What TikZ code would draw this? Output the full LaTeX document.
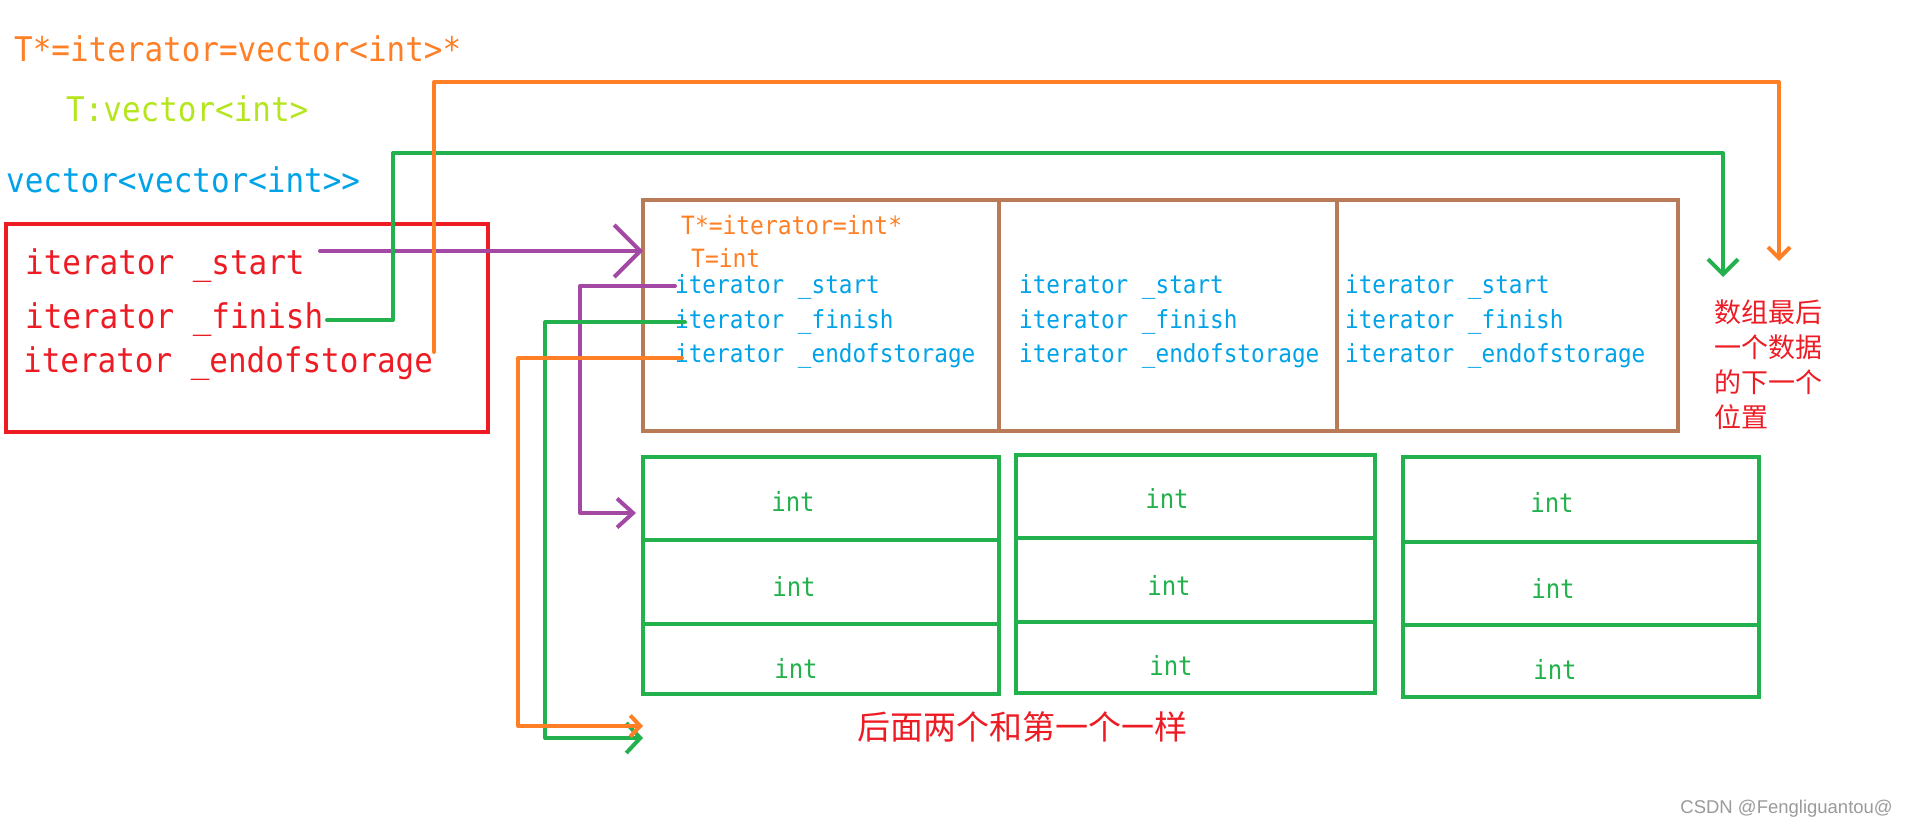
\documentclass[tikz,border=0pt]{standalone}
\usepackage{fontspec}
\setmonofont[FakeStretch=0.91]{DejaVu Sans Mono}
\newfontfamily\cjk{Noto Sans CJK SC}
\newfontfamily\wmfont{Liberation Sans}
\usetikzlibrary{arrows.meta}
\definecolor{cred}{HTML}{ED1C24}
\definecolor{corange}{HTML}{FF7F27}
\definecolor{clime}{HTML}{B5E61D}
\definecolor{cblue}{HTML}{00A2E8}
\definecolor{cpurple}{HTML}{A349A4}
\definecolor{cgreen}{HTML}{22B14C}
\definecolor{cbrown}{HTML}{B97A57}
\definecolor{cgray}{HTML}{9A9A9A}
\begin{document}
\begin{tikzpicture}[x=1pt,y=-1pt,
  bigtxt/.style={font=\ttfamily\fontsize{34}{40}\selectfont, inner sep=0pt, anchor=base west},
  smalltxt/.style={font=\ttfamily\fontsize{24.9}{29}\selectfont, inner sep=0pt, anchor=base west, text=cblue},
  tinyorange/.style={font=\ttfamily\fontsize{25.2}{29}\selectfont, inner sep=0pt, anchor=base west, text=corange},
  inttxt/.style={font=\ttfamily\fontsize{26.4}{30}\selectfont, text=cgreen, inner sep=0pt},
  box/.style={draw, line width=4pt, inner sep=0pt, outer sep=0pt, anchor=north west},
  cellbox/.style={box, draw=cgreen, line width=4.5pt},
  vecbox/.style={box, draw=cbrown, minimum height=231pt},
  conn/.style={line width=4pt, line cap=round, line join=round},
]
\useasboundingbox (0,0) rectangle (1906,829);

% title texts
\node[bigtxt, text=corange] (t1) at (14,62) {T*=iterator=vector<int>*};
\node[bigtxt, text=clime] (t2) at (66,122) {T:vector<int>};
\node[bigtxt, text=cblue] (t3) at (6,193) {vector<vector<int>>};

% red box
\node[box, draw=cred, minimum width=482pt, minimum height=208pt] (redbox) at (6,224) {};
\node[bigtxt, text=cred] (rs) at (25,274) {iterator \_start};
\node[bigtxt, text=cred] (rf) at (25,328) {iterator \_finish};
\node[bigtxt, text=cred] (re) at (23,372) {iterator \_endofstorage};

% brown vector box
\node[vecbox, minimum width=356pt] (v1) at (643,200) {};
\node[vecbox, minimum width=338pt] (v2) at (999,200) {};
\node[vecbox, minimum width=341pt] (v3) at (1337,200) {};

\node[tinyorange] (o1) at (681,235) {T*=iterator=int*};
\node[tinyorange] (o2) at (691,267) {T=int};

\node[smalltxt] (bs1) at (675,293) {iterator \_start};
\node[smalltxt] (bf1) at (675,328) {iterator \_finish};
\node[smalltxt] (be1) at (675,362) {iterator \_endofstorage};
\node[smalltxt] (bs2) at (1019,293) {iterator \_start};
\node[smalltxt] (bf2) at (1019,328) {iterator \_finish};
\node[smalltxt] (be2) at (1019,362) {iterator \_endofstorage};
\node[smalltxt] (bs3) at (1345,293) {iterator \_start};
\node[smalltxt] (bf3) at (1345,328) {iterator \_finish};
\node[smalltxt] (be3) at (1345,362) {iterator \_endofstorage};

% int cells
\node[cellbox, minimum width=356pt, minimum height=83pt] (a1) at (643,457) {};
\node[cellbox, minimum width=356pt, minimum height=84pt] (a2) at (643,540) {};
\node[cellbox, minimum width=356pt, minimum height=70pt] (a3) at (643,624) {};
\node[cellbox, minimum width=359pt, minimum height=83pt] (b1) at (1016,455) {};
\node[cellbox, minimum width=359pt, minimum height=84pt] (b2) at (1016,538) {};
\node[cellbox, minimum width=359pt, minimum height=71pt] (b3) at (1016,622) {};
\node[cellbox, minimum width=356pt, minimum height=85pt] (c1) at (1403,457) {};
\node[cellbox, minimum width=356pt, minimum height=83pt] (c2) at (1403,542) {};
\node[cellbox, minimum width=356pt, minimum height=72pt] (c3) at (1403,625) {};

\node[inttxt] (ia1) at (793,501) {int};
\node[inttxt] (ia2) at (794,586) {int};
\node[inttxt] (ia3) at (796,668) {int};
\node[inttxt] (ib1) at (1167,498) {int};
\node[inttxt] (ib2) at (1169,585) {int};
\node[inttxt] (ib3) at (1171,665) {int};
\node[inttxt] (ic1) at (1552,502) {int};
\node[inttxt] (ic2) at (1553,588) {int};
\node[inttxt] (ic3) at (1555,669) {int};

% notes
\node[font=\cjk\fontsize{27}{35}\selectfont, text=cred, align=left, inner sep=0pt, anchor=north west] (note) at (1714,300) {数组最后\\一个数据\\的下一个\\位置};
\node[font=\cjk\fontsize{33}{40}\selectfont, text=cred, inner sep=0pt] (same) at (1022,727) {后面两个和第一个一样};
\node[font=\wmfont\fontsize{18.5}{22}\selectfont, text=cgray, inner sep=0pt, anchor=base east] (wm) at (1893,813) {CSDN @Fengliguantou@};

% connectors
\coordinate (ps) at (320,251);
\draw[conn, cpurple, -{Straight Barb[length=26pt,width=52pt]}] (ps) -- (ps -| v1.west);

\coordinate (gs) at (327,320);
\coordinate (gd) at (1723,277);
\draw[conn, cgreen, -{Straight Barb[length=15pt,width=30pt]}] (gs) -- (393,320) -- (393,153) -- (1723,153) -- (gd);

\coordinate (os) at (434,352);
\coordinate (od) at (1779,261);
\draw[conn, corange, -{Straight Barb[length=11pt,width=22pt]}] (os) -- (434,82) -- (1779,82) -- (od);

\draw[conn, cpurple, -{Straight Barb[length=16pt,width=29pt]}] (bs1.west |- 0,286) -- (580,286) -- (580,513) -- (636,513);
\draw[conn, cgreen, -{Straight Barb[length=14pt,width=30pt]}] (685,322) -- (545,322) -- (545,738) -- (a3.west |- 0,738);
\draw[conn, corange, -{Straight Barb[length=10pt,width=21pt]}] (682,358) -- (518,358) -- (518,726) -- (a3.west |- 0,726);
\end{tikzpicture}
\end{document}
